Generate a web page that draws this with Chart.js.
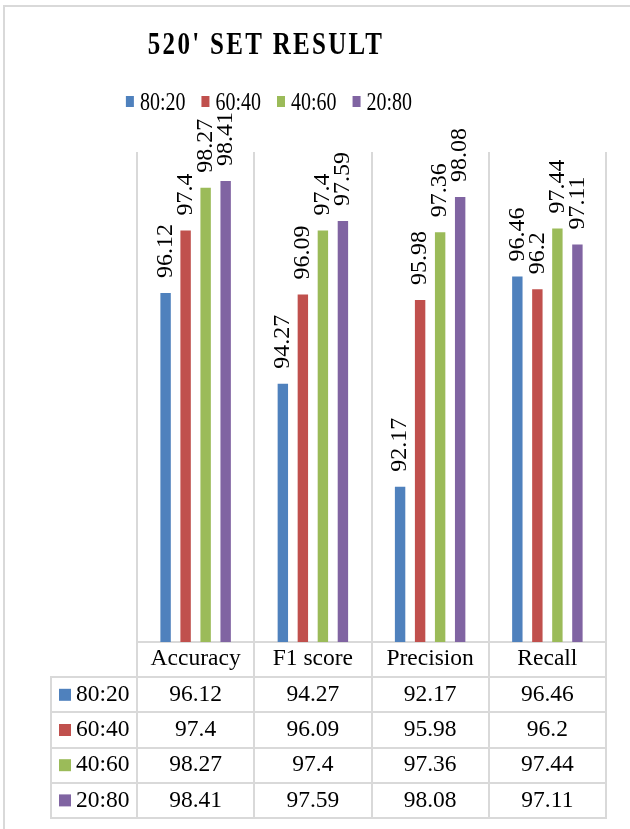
<!DOCTYPE html>
<html>
<head>
<meta charset="utf-8">
<title>520' SET RESULT</title>
<script src="https://cdn.jsdelivr.net/npm/chart.js@4.4.1/dist/chart.umd.min.js"></script>
<style>
  html, body { margin: 0; padding: 0; background: #fff; }
  canvas { display: block; }
</style>
</head>
<body>
<canvas id="chart" width="630" height="829"></canvas>
<script>
// ---- data ----
const chartTitle = "520' SET RESULT";
const categories = ['Accuracy', 'F1 score', 'Precision', 'Recall'];
const splitNames = ['80:20', '60:40', '40:60', '20:80'];
const split8020 = [96.12, 94.27, 92.17, 96.46];
const split6040 = [97.4, 96.09, 95.98, 96.2];
const split4060 = [98.27, 97.4, 97.36, 97.44];
const split2080 = [98.41, 97.59, 98.08, 97.11];
const seriesValues = [split8020, split6040, split4060, split2080];
const seriesColors = ['#4F81BD', '#C0504D', '#9BBB59', '#8064A2'];

// ---- styling ----
const SERIF = "'Liberation Serif', 'Times New Roman', Times, serif";
const LINE = '#D9D9D9';
const TEXT = '#000000';

// white page with the thin frame on the top and left edges
const framePlugin = {
  id: 'frame',
  beforeDraw(chart) {
    const ctx = chart.ctx;
    ctx.save();
    ctx.fillStyle = '#ffffff';
    ctx.fillRect(0, 0, chart.width, chart.height);
    ctx.strokeStyle = LINE;
    ctx.lineWidth = 2;
    ctx.beginPath();
    ctx.moveTo(4, chart.height);
    ctx.lineTo(4, 6);
    ctx.lineTo(chart.width, 6);
    ctx.stroke();
    ctx.restore();
  }
};

// title and series key above the plot
const headerPlugin = {
  id: 'header',
  afterDraw(chart) {
    const ctx = chart.ctx;
    ctx.save();
    // title
    ctx.fillStyle = TEXT;
    ctx.font = 'bold 25px ' + SERIF;
    ctx.textAlign = 'center';
    ctx.textBaseline = 'alphabetic';
    if ('letterSpacing' in ctx) ctx.letterSpacing = '2.3px';
    ctx.save();
    ctx.translate(266, 54);
    ctx.scale(1, 1.27);
    ctx.fillText(chartTitle, 0, 0);
    ctx.restore();
    if ('letterSpacing' in ctx) ctx.letterSpacing = '0px';

    // key
    const ds = chart.data.datasets;
    ctx.font = '20px ' + SERIF;
    const boxW = 8, boxH = 11, boxGap = 6, itemGap = 16;
    const widths = ds.map(d => boxW + boxGap + ctx.measureText(d.label).width);
    const total = widths.reduce((a, b) => a + b, 0) + itemGap * (ds.length - 1);
    let x = 269 - total / 2;
    ds.forEach((d, i) => {
      ctx.fillStyle = d.backgroundColor;
      ctx.fillRect(x, 96, boxW, boxH);
      ctx.fillStyle = TEXT;
      ctx.textAlign = 'left';
      ctx.save();
      ctx.translate(x + boxW + boxGap, 110);
      ctx.scale(1, 1.22);
      ctx.fillText(d.label, 0, 0);
      ctx.restore();
      x += widths[i] + itemGap;
    });
    ctx.restore();
  }
};

// rotated value labels above each bar
const valueLabelPlugin = {
  id: 'valueLabels',
  afterDatasetsDraw(chart) {
    const ctx = chart.ctx;
    ctx.save();
    ctx.fillStyle = TEXT;
    ctx.font = '24px ' + SERIF;
    ctx.textAlign = 'left';
    ctx.textBaseline = 'middle';
    chart.data.datasets.forEach((d, i) => {
      const meta = chart.getDatasetMeta(i);
      meta.data.forEach((bar, j) => {
        ctx.save();
        ctx.translate(bar.x, bar.y - 15);
        ctx.rotate(-Math.PI / 2);
        ctx.fillText(String(d.data[j]), 0, 0);
        ctx.restore();
      });
    });
    ctx.restore();
  }
};

// data table under the category axis
const dataTablePlugin = {
  id: 'dataTable',
  afterDraw(chart) {
    const ctx = chart.ctx;
    const xs = chart.scales.x;
    const area = chart.chartArea;
    const ds = chart.data.datasets;
    const n = chart.data.labels.length;
    const colW = (xs.right - xs.left) / n;
    const top = area.bottom;
    const bottom = xs.bottom;
    const rowH = (bottom - top) / (ds.length + 1);
    const keyLeft = 51;

    ctx.save();
    ctx.strokeStyle = LINE;
    ctx.lineWidth = 2;
    ctx.beginPath();
    for (let i = 0; i <= n; i++) {
      const x = Math.round(xs.left + i * colW);
      ctx.moveTo(x, top);
      ctx.lineTo(x, bottom);
    }
    ctx.moveTo(keyLeft, top + rowH);
    ctx.lineTo(keyLeft, bottom);
    for (let r = 1; r <= ds.length + 1; r++) {
      const y = Math.round(top + r * rowH);
      ctx.moveTo(keyLeft - 1, y);
      ctx.lineTo(xs.right + 1, y);
    }
    ctx.stroke();

    ctx.font = '23.5px ' + SERIF;
    ctx.textBaseline = 'middle';
    ds.forEach((d, r) => {
      const cy = top + (r + 1) * rowH + rowH / 2;
      ctx.fillStyle = d.backgroundColor;
      ctx.fillRect(keyLeft + 8, cy - 6, 12, 12);
      ctx.fillStyle = TEXT;
      ctx.textAlign = 'left';
      ctx.fillText(d.label, keyLeft + 25, cy);
      ctx.textAlign = 'center';
      d.data.forEach((v, c) => {
        ctx.fillText(String(v), xs.left + (c + 0.5) * colW, cy);
      });
    });
    ctx.restore();
  }
};

new Chart(document.getElementById('chart'), {
  type: 'bar',
  data: {
    labels: categories,
    datasets: splitNames.map((name, i) => ({
      label: name,
      data: seriesValues[i],
      backgroundColor: seriesColors[i],
      borderWidth: 0,
      barPercentage: 0.52,
      categoryPercentage: 0.683
    }))
  },
  options: {
    responsive: false,
    devicePixelRatio: 1,
    animation: false,
    events: [],
    layout: { padding: { left: 137, right: 24, top: 152, bottom: 11 } },
    plugins: {
      legend: { display: false },
      title: { display: false },
      tooltip: { enabled: false }
    },
    scales: {
      x: {
        position: 'bottom',
        grid: { display: true, color: LINE, lineWidth: 2, drawTicks: false, offset: true },
        border: { display: true, color: LINE, width: 2 },
        ticks: { color: TEXT, font: { family: SERIF, size: 23.5 }, padding: 3, maxRotation: 0 },
        afterFit(scale) { scale.height = 176; }
      },
      y: {
        display: false,
        min: 89,
        max: 99
      }
    }
  },
  plugins: [framePlugin, valueLabelPlugin, dataTablePlugin, headerPlugin]
});
</script>
</body>
</html>
